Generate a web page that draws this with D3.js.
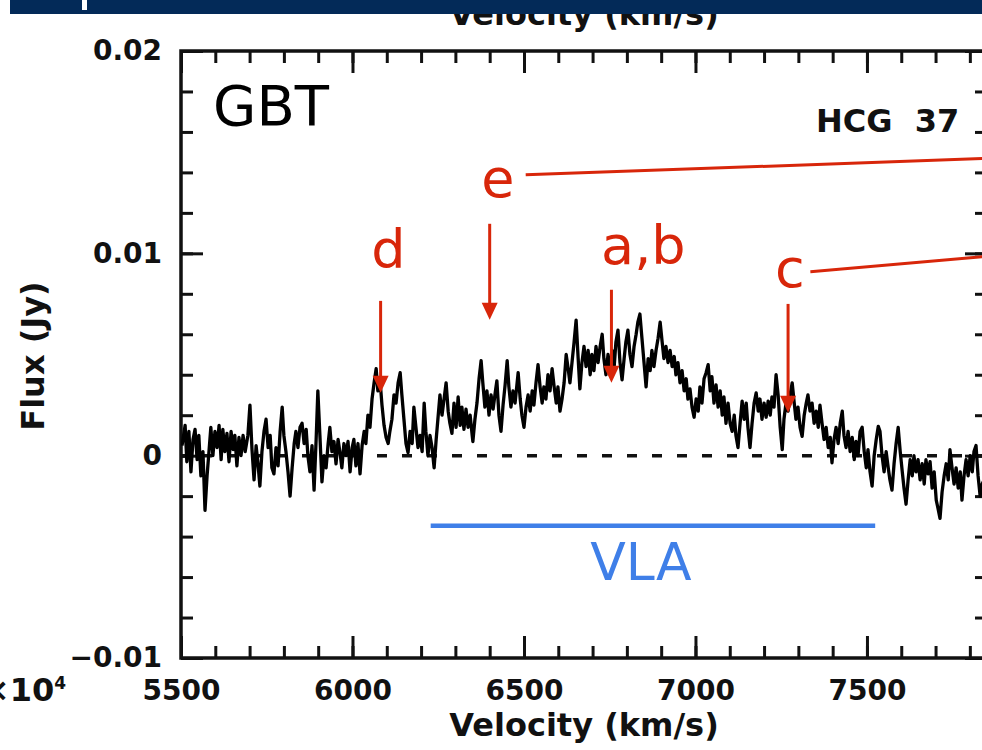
<!DOCTYPE html>
<html lang="en">
<head>
<meta charset="utf-8">
<title>HCG 37 - GBT HI spectrum</title>
<script src="https://d3js.org/d3.v7.min.js"></script>
<style>
  body { margin: 0; background: #fff; }
  svg { display: block; }
  .tick text { font-family: "DejaVu Sans", sans-serif; font-weight: bold; font-size: 28px; fill: #111; }
  .title { font-family: "DejaVu Sans", sans-serif; font-weight: bold; font-size: 32px; fill: #111; }
  .note { font-family: "DejaVu Sans", sans-serif; }
</style>
</head>
<body>
<script>

// spectrum: [velocity km/s, flux mJy]
var spectrum = [
  [5503,0.5],[5512,1.5],[5517,-0.3],[5523,1.2],[5529,-0.8],[5535,0.8],[5541,1.3],[5547,-0.2],
  [5552,1.0],[5558,-1.0],[5564,0.2],[5570,-2.7],[5576,-1.0],[5582,0.3],[5587,1.4],[5593,0.0],
  [5599,1.2],[5605,0.4],[5611,1.5],[5617,-0.2],[5622,1.3],[5628,0.2],[5634,1.1],[5640,-0.3],
  [5646,1.2],[5652,0.3],[5657,1.0],[5663,-0.5],[5669,0.9],[5675,0.0],[5681,1.0],[5687,0.2],
  [5695,1.0],[5701,2.5],[5707,0.3],[5713,-1.2],[5719,0.5],[5725,-0.5],[5730,-1.5],[5736,0.2],
  [5742,1.2],[5748,1.8],[5754,0.4],[5760,1.0],[5765,-0.6],[5771,-0.9],[5777,0.4],[5783,-0.5],
  [5789,1.2],[5795,2.4],[5800,1.0],[5806,0.2],[5812,-0.8],[5818,-2.0],[5824,-0.6],[5830,0.6],
  [5835,1.2],[5841,0.4],[5847,1.4],[5853,1.6],[5859,0.6],[5865,1.3],[5870,0.0],[5876,-0.8],
  [5882,0.5],[5888,-1.7],[5894,0.8],[5899,3.2],[5905,1.0],[5911,-1.3],[5917,0.0],[5923,-0.6],
  [5929,0.6],[5934,1.4],[5940,0.2],[5946,0.7],[5952,-0.4],[5958,0.8],[5964,0.1],[5969,-0.6],
  [5975,0.6],[5981,0.0],[5987,0.7],[5993,-0.8],[5999,0.4],[6004,0.8],[6010,-0.5],[6016,0.6],
  [6022,-0.9],[6028,0.5],[6034,1.2],[6039,0.6],[6045,2.0],[6051,1.4],[6057,2.8],[6063,3.6],
  [6069,4.3],[6074,3.2],[6080,3.8],[6086,2.5],[6092,1.5],[6098,0.9],[6104,0.6],[6109,1.2],
  [6115,1.8],[6121,3.0],[6127,2.6],[6133,3.6],[6139,4.1],[6144,3.0],[6150,1.8],[6156,0.6],
  [6162,0.15],[6168,1.2],[6174,0.6],[6179,2.4],[6185,1.4],[6191,0.4],[6197,1.0],[6203,0.2],
  [6209,2.6],[6214,1.2],[6220,0.0],[6226,1.0],[6232,0.4],[6238,-0.6],[6244,0.8],[6249,1.8],
  [6255,3.0],[6261,2.0],[6267,2.8],[6273,3.6],[6279,2.2],[6284,1.6],[6290,1.1],[6296,2.6],
  [6302,1.4],[6308,2.9],[6314,1.5],[6319,2.4],[6325,1.3],[6331,2.3],[6337,1.4],[6343,2.0],
  [6349,1.0],[6351,0.7],[6357,1.8],[6363,2.6],[6369,3.8],[6375,4.7],[6380,3.6],[6386,2.4],
  [6392,3.2],[6398,2.0],[6404,3.0],[6410,2.3],[6416,3.1],[6421,3.7],[6427,2.0],[6433,1.2],
  [6439,2.5],[6445,3.5],[6451,4.7],[6456,3.4],[6462,2.4],[6468,3.2],[6474,2.6],[6483,4.1],
  [6489,2.8],[6494,2.0],[6500,1.4],[6506,2.4],[6512,3.0],[6518,2.2],[6524,3.2],[6529,2.5],
  [6535,3.6],[6541,4.5],[6547,3.4],[6553,2.6],[6558,3.4],[6564,2.8],[6570,4.0],[6576,3.2],
  [6582,4.3],[6588,3.4],[6594,2.6],[6599,3.4],[6605,2.2],[6611,2.8],[6617,3.6],[6623,5.0],
  [6628,4.4],[6634,3.6],[6640,4.6],[6646,5.6],[6652,6.7],[6658,4.8],[6663,3.3],[6669,4.6],
  [6675,5.4],[6681,4.4],[6687,5.2],[6693,4.0],[6698,5.0],[6704,4.2],[6710,5.4],[6716,4.6],
  [6722,5.4],[6728,6.0],[6733,4.8],[6739,4.0],[6745,5.0],[6751,4.2],[6757,5.2],[6763,4.4],
  [6768,5.6],[6774,6.2],[6780,4.6],[6786,3.75],[6792,4.8],[6797,5.6],[6803,6.2],[6809,5.0],
  [6815,4.4],[6821,5.4],[6827,6.0],[6832,6.6],[6838,7.0],[6844,5.8],[6850,4.6],[6856,3.4],
  [6862,4.8],[6868,4.2],[6873,5.2],[6879,4.4],[6885,5.2],[6891,5.8],[6897,6.6],[6903,5.6],
  [6908,4.8],[6914,5.4],[6920,4.6],[6926,5.2],[6932,4.4],[6938,4.9],[6943,4.0],[6949,4.6],
  [6955,3.6],[6961,4.2],[6967,3.2],[6973,3.8],[6978,2.8],[6984,3.3],[6990,2.4],[6996,1.9],
  [7002,2.8],[7008,2.2],[7013,3.4],[7019,2.6],[7025,3.8],[7031,4.1],[7037,4.5],[7043,3.2],
  [7048,3.9],[7054,2.6],[7060,3.5],[7066,2.4],[7072,3.2],[7078,2.0],[7083,2.9],[7089,1.6],
  [7095,2.6],[7101,1.6],[7107,1.2],[7113,2.0],[7118,1.0],[7124,0.4],[7130,1.6],[7136,2.7],
  [7142,1.8],[7148,2.6],[7153,1.4],[7159,0.4],[7165,1.6],[7171,2.6],[7177,3.1],[7183,2.2],
  [7188,2.8],[7194,1.8],[7200,2.6],[7206,1.9],[7212,2.7],[7218,2.0],[7223,2.9],[7229,2.4],
  [7235,4.0],[7241,3.0],[7247,1.4],[7253,0.3],[7258,1.8],[7264,2.6],[7270,2.2],[7276,3.0],
  [7282,3.6],[7288,2.6],[7293,1.8],[7299,2.4],[7305,1.4],[7311,0.95],[7317,2.0],[7323,2.6],
  [7328,3.0],[7334,2.2],[7340,2.6],[7346,1.6],[7352,2.2],[7358,1.4],[7363,2.5],[7369,1.6],
  [7375,0.8],[7381,1.4],[7387,0.4],[7393,0.9],[7398,-0.35],[7404,0.8],[7410,1.4],[7416,0.6],
  [7422,1.6],[7428,2.2],[7433,1.0],[7439,0.4],[7445,1.2],[7451,0.2],[7457,0.9],[7463,-0.2],
  [7468,0.7],[7474,0.0],[7480,1.2],[7486,1.4],[7492,0.2],[7498,-0.6],[7503,0.3],[7509,-0.8],
  [7515,-1.5],[7521,0.0],[7527,0.8],[7533,1.45],[7538,1.2],[7544,0.0],[7550,-0.8],[7556,0.2],
  [7562,-0.6],[7567,-1.2],[7573,-1.7],[7579,-0.4],[7585,0.6],[7591,1.4],[7597,0.2],[7603,-0.8],
  [7608,-1.6],[7614,-2.4],[7620,-1.2],[7626,-0.2],[7632,-1.0],[7637,0.0],[7643,-0.8],[7649,-0.2],
  [7655,-1.2],[7661,-0.4],[7667,-1.4],[7672,-0.2],[7678,-0.9],[7684,-0.3],[7690,-1.6],[7696,-0.8],
  [7702,-2.2],[7707,-2.6],[7713,-3.1],[7719,-1.8],[7725,-1.0],[7731,-0.4],[7737,-1.2],[7742,0.3],
  [7748,-0.6],[7754,-1.4],[7760,-0.6],[7766,-1.6],[7772,-0.8],[7777,-2.2],[7783,-1.0],[7789,-0.2],
  [7795,-1.0],[7801,0.0],[7807,-0.8],[7812,0.2],[7818,0.5],[7824,-1.0],[7830,-2.0],[7836,-1.4],
  [7847,-1.0]
];

// arrows marking the positions of galaxies a-e
var markLabels = ["d", "e", "a,b", "c"];
var markVel = [6082, 6400, 6755, 7270];
var markTopFlux = [0.00765, 0.01146, 0.0082, 0.0075];
var markTipFlux = [0.00311, 0.00672, 0.0036, 0.00212];
var markLabelVel = [6105, 6424, 6848, 7275];
var markLabelFlux = [0.00928, 0.01279, 0.00948, 0.00835];

// leader lines running off to the right for e and c
var leaderFrom = [[6505, 0.01388], [7335, 0.00909]];
var leaderTo = [[7900, 0.01472], [7900, 0.00993]];

// VLA velocity range
var vlaRange = [6228, 7524];
var vlaFlux = -0.00346;

var xMajor = [5500, 6000, 6500, 7000, 7500];
var xMinor = d3.range(5500, 7851, 100);
var yMajor = [-0.01, 0, 0.01, 0.02];
var yMinor = d3.range(-0.01, 0.0201, 0.002);

var outerWidth = 982, outerHeight = 750;
var margin = { left: 181, top: 51, right: -5, bottom: 92 };
var innerWidth = outerWidth - margin.left - margin.right;
var innerHeight = outerHeight - margin.top - margin.bottom;

var red = "#d8260a", blue = "#3f7fe8";

var svg = d3.select("body").append("svg")
    .attr("width", outerWidth)
    .attr("height", outerHeight);

var g = svg.append("g")
    .attr("transform", `translate(${margin.left},${margin.top})`);

var xScale = d3.scaleLinear().domain([5500, 7850]).range([0, innerWidth]);
var yScale = d3.scaleLinear().domain([-0.01, 0.02]).range([innerHeight, 0]);

function clean(sel) {
    sel.select(".domain").remove();
    sel.selectAll(".tick line").attr("stroke", "#111").attr("stroke-width", 3);
    sel.selectAll(".tick text").filter(function() { return this.textContent === ""; }).remove();
}

// bottom axis
g.append("g").attr("transform", `translate(0,${innerHeight})`)
    .call(d3.axisBottom(xScale).tickValues(xMinor).tickSize(-12).tickFormat(""))
    .call(clean);
g.append("g").attr("transform", `translate(0,${innerHeight})`)
    .call(d3.axisBottom(xScale).tickValues(xMajor).tickSize(-22).tickPadding(22).tickFormat(d3.format("d")))
    .call(clean);
// top axis
g.append("g")
    .call(d3.axisTop(xScale).tickValues(xMinor).tickSize(-12).tickFormat(""))
    .call(clean);
g.append("g")
    .call(d3.axisTop(xScale).tickValues(xMajor).tickSize(-22).tickFormat(""))
    .call(clean);
// left axis
g.append("g")
    .call(d3.axisLeft(yScale).tickValues(yMinor).tickSize(-12).tickFormat(""))
    .call(clean);
g.append("g")
    .call(d3.axisLeft(yScale).tickValues(yMajor).tickSize(-22).tickPadding(19).tickFormat(d3.format("~g")))
    .call(clean);
// right axis
g.append("g").attr("transform", `translate(${innerWidth},0)`)
    .call(d3.axisRight(yScale).tickValues(yMinor).tickSize(-12).tickFormat(""))
    .call(clean);
g.append("g").attr("transform", `translate(${innerWidth},0)`)
    .call(d3.axisRight(yScale).tickValues(yMajor).tickSize(-22).tickFormat(""))
    .call(clean);

g.append("rect")
    .attr("width", innerWidth).attr("height", innerHeight)
    .attr("fill", "none").attr("stroke", "#111").attr("stroke-width", 3.5);

g.append("clipPath").attr("id", "plotclip")
  .append("rect").attr("width", innerWidth).attr("height", innerHeight);

// zero level
g.append("line")
    .attr("x1", 0).attr("x2", innerWidth)
    .attr("y1", yScale(0)).attr("y2", yScale(0))
    .attr("stroke", "#111").attr("stroke-width", 3.5)
    .attr("stroke-dasharray", "10,15").attr("stroke-dashoffset", 4);

var line = d3.line()
    .x(d => xScale(d[0]))
    .y(d => yScale(d[1] / 1000));

g.append("path")
    .datum(spectrum)
    .attr("clip-path", "url(#plotclip)")
    .attr("d", line)
    .attr("fill", "none")
    .attr("stroke", "#000")
    .attr("stroke-width", 3.3)
    .attr("stroke-linejoin", "round");

// axis titles
svg.append("text").attr("class", "title")
    .attr("x", margin.left + innerWidth / 2).attr("y", 736)
    .attr("text-anchor", "middle").text("Velocity (km/s)");
svg.append("text").attr("class", "title")
    .attr("x", margin.left + innerWidth / 2).attr("y", 25)
    .attr("text-anchor", "middle").text("Velocity (km/s)");
svg.append("text").attr("class", "title")
    .attr("transform", "translate(44,356) rotate(-90)")
    .attr("text-anchor", "middle").attr("font-size", 31).text("Flux (Jy)");

var pow = svg.append("text").attr("class", "title")
    .attr("x", 66).attr("y", 701).attr("text-anchor", "end").attr("font-size", 28);
pow.append("tspan").text("\u00d710");
pow.append("tspan").attr("dy", -12).attr("font-size", 17).text("4");

g.append("text").attr("class", "title")
    .attr("x", 635).attr("y", 81).attr("font-size", 25)
    .attr("xml:space", "preserve").style("white-space", "pre")
    .text("HCG  37");

g.append("text").attr("class", "note")
    .attr("x", 32).attr("y", 74).attr("font-size", 56).attr("fill", "#000")
    .text("GBT");

// VLA range bar
g.append("line")
    .attr("x1", xScale(vlaRange[0])).attr("x2", xScale(vlaRange[1]))
    .attr("y1", yScale(vlaFlux)).attr("y2", yScale(vlaFlux))
    .attr("stroke", blue).attr("stroke-width", 4.5);
g.append("text").attr("class", "note")
    .attr("x", xScale(d3.mean(vlaRange)) - 12).attr("y", yScale(vlaFlux) + 54)
    .attr("text-anchor", "middle").attr("font-size", 52).attr("fill", blue)
    .text("VLA");

// leader lines
leaderFrom.forEach(function(p, i) {
    g.append("line")
        .attr("x1", xScale(p[0])).attr("y1", yScale(p[1]))
        .attr("x2", xScale(leaderTo[i][0])).attr("y2", yScale(leaderTo[i][1]))
        .attr("stroke", red).attr("stroke-width", 3);
});

// arrows and labels
markLabels.forEach(function(lab, i) {
    var x = xScale(markVel[i]);
    var y0 = yScale(markTopFlux[i]);
    var y1 = yScale(markTipFlux[i]);
    g.append("line")
        .attr("x1", x).attr("x2", x).attr("y1", y0).attr("y2", y1 - 12)
        .attr("stroke", red).attr("stroke-width", 3);
    g.append("path")
        .attr("d", `M${x - 8},${y1 - 17}L${x + 8},${y1 - 17}L${x},${y1}Z`)
        .attr("fill", red);
    g.append("text").attr("class", "note")
        .attr("x", xScale(markLabelVel[i])).attr("y", yScale(markLabelFlux[i]))
        .attr("text-anchor", "middle").attr("font-size", 54).attr("fill", red)
        .text(lab);
});

// dark banner along the top
svg.append("rect").attr("x", 10).attr("y", 0).attr("width", 972).attr("height", 14).attr("fill", "#032a58");
svg.append("rect").attr("x", 82).attr("y", 0).attr("width", 5).attr("height", 10).attr("fill", "#fff");

</script>
</body>
</html>
